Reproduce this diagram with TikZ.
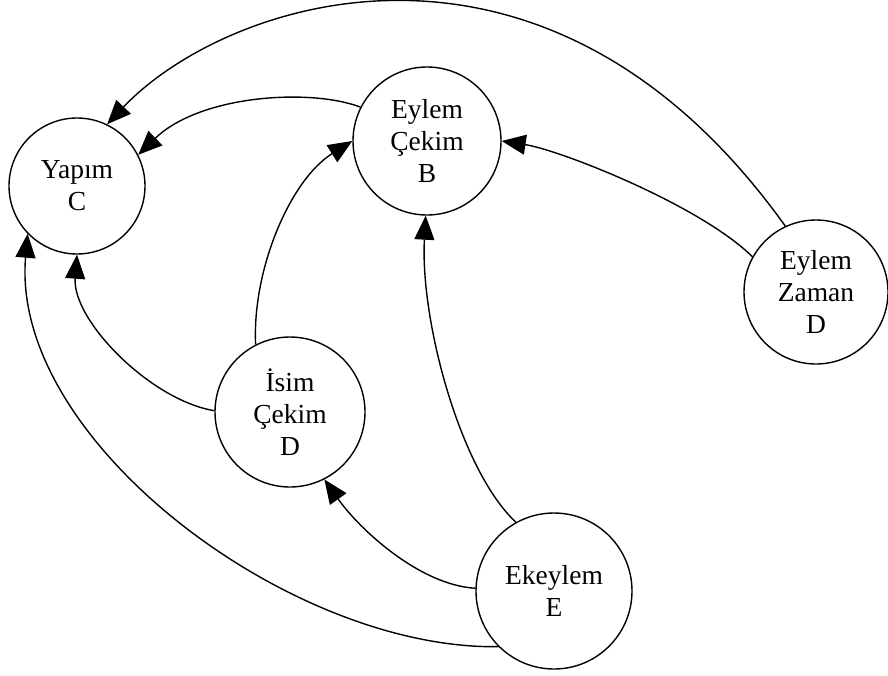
\documentclass[tikz,border=0pt]{standalone}
\usepackage{fontspec}
\setmainfont{Liberation Serif}
\usetikzlibrary{arrows.meta}
\begin{document}
\begin{tikzpicture}[x=1pt,y=-1pt,
  state/.style={circle,draw,line width=1.4pt,inner sep=0pt,align=center,
    font=\fontsize{27.5}{32}\selectfont},
  edge/.style={line width=1.4pt,-{Triangle[length=24pt,width=20pt]}}]
\useasboundingbox (0,0) rectangle (888,675);

% states
\node[state,minimum size=136pt] (C) at (77,186)  {Yapım\\C};
\node[state,minimum size=148pt] (B) at (427,141) {Eylem\\Çekim\\B};
\node[state,minimum size=144pt] (Z) at (816,292) {Eylem\\Zaman\\D};
\node[state,minimum size=150pt] (I) at (290,412) {İsim\\Çekim\\D};
\node[state,minimum size=156pt] (E) at (554,591) {Ekeylem\\E};

% transitions
\draw[edge] (Z.115) .. controls (545,-110) and (225,0) .. (C.64);
\draw[edge] (B.153) .. controls (310,88) and (200,95) .. (C.27);
\draw[edge] (Z.151) .. controls (700,205) and (560,150) .. (B.0);
\draw[edge] (I.117) .. controls (252,270) and (290,180) .. (B.180);
\draw[edge] (I.179) .. controls (150,400) and (72,320) .. (C.270);
\draw[edge] (E.119) .. controls (460,470) and (420,320) .. (B.269);
\draw[edge] (E.178) .. controls (420,585) and (360,530) .. (I.-63);
\draw[edge] (E.225) .. controls (290,650) and (10,440) .. (C.224);
\end{tikzpicture}
\end{document}
